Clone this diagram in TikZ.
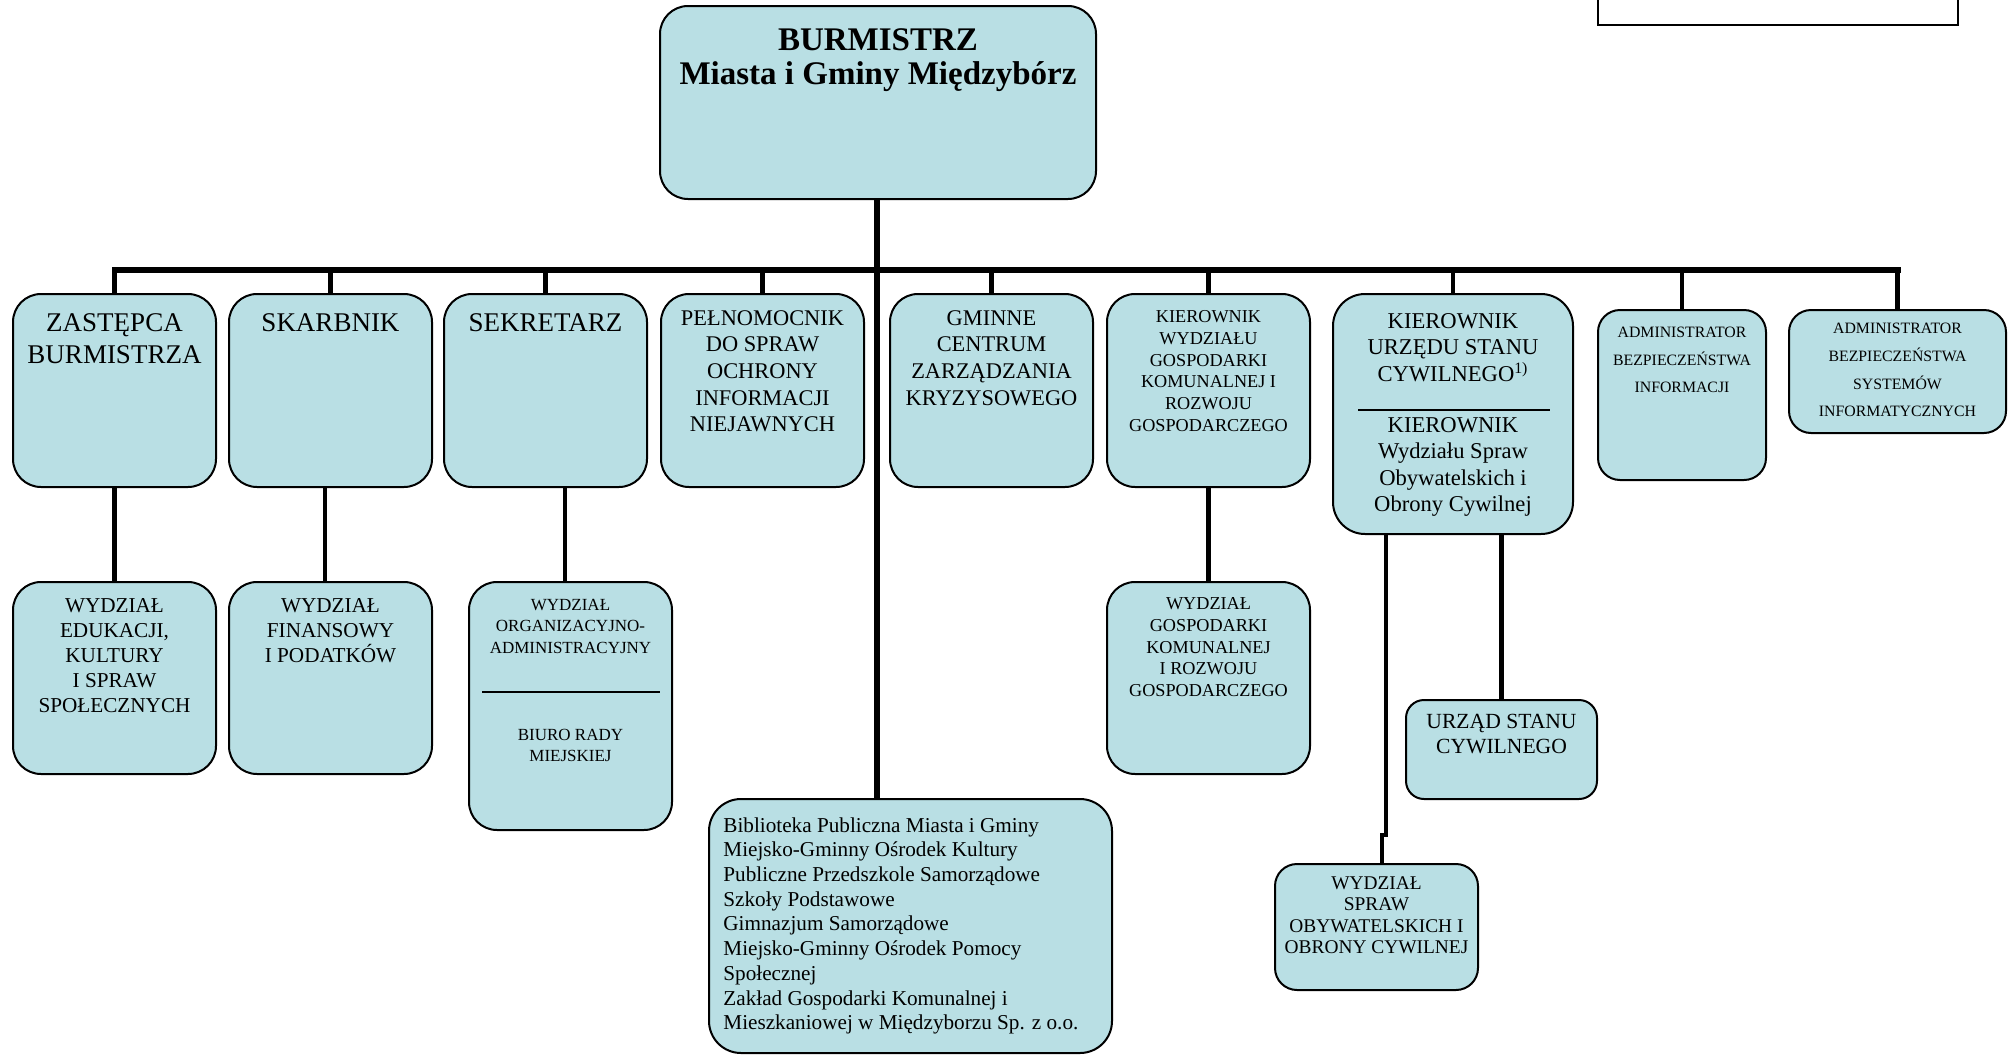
\documentclass[tikz,border=0pt]{standalone}
\usepackage{fontspec}
\setmainfont{Liberation Serif}
\usetikzlibrary{calc}
\definecolor{boxfill}{RGB}{185,223,228}
\newcommand\fs[2]{\fontsize{#1pt}{#2pt}\selectfont}
\newcommand\orgbox[7][]{%
  \pgfmathsetmacro\bw{(#5-#3)*0.5}%
  \pgfmathsetmacro\bh{(#6-#4)*0.5}%
  \node[box, rounded corners=#7pt, minimum width=\bw pt, minimum height=\bh pt, #1] (#2) at ({(#3+#5)/2},{(#4+#6)/2}) {};%
}
\tikzset{
  box/.style={draw=black, line width=1pt, fill=boxfill, inner sep=0pt, outer sep=0pt},
  conn/.style={line width=2.2pt},
  barline/.style={line width=3pt, line cap=rect},
  mainline/.style={line width=2.8pt},
  txt/.style={inner sep=0pt, align=center, anchor=north, text=black},
  divider/.style={line width=0.9pt},
}
\begin{document}
\begin{tikzpicture}[x=0.5pt,y=-0.5pt]
\useasboundingbox (0,0) rectangle (2014,1055);
% top-right empty frame
\node[draw=black, line width=1.2pt, fill=white, minimum width=180pt, minimum height=40pt, inner sep=0pt] (topbox) at (1778,-15) {};
% boxes
\orgbox{burm}{660}{6}{1096}{199}{14}
\orgbox{b1}{13}{294}{216}{487}{14}
\orgbox{b2}{229}{294}{432}{487}{14}
\orgbox{b3}{444}{294}{647}{487}{14}
\orgbox{b4}{661}{294}{864}{487}{14}
\orgbox{b5}{890}{294}{1093}{487}{14}
\orgbox{b6}{1107}{294}{1310}{487}{14}
\orgbox{b7}{1333}{294}{1573}{534}{16}
\orgbox{b8}{1598}{310}{1766}{480}{11}
\orgbox{b9}{1789}{310}{2006}{433}{11}
\orgbox{wA}{13}{582}{216}{774}{14}
\orgbox{wB}{229}{582}{432}{774}{14}
\orgbox{wC}{469}{582}{672}{830}{14}
\orgbox{wD}{1107}{582}{1310}{774}{14}
\orgbox{wE}{1406}{700}{1597}{799}{9}
\orgbox{wF}{1275}{864}{1478}{990}{11}
\orgbox{wG}{709}{799}{1112}{1053}{16}
% coordinates
\coordinate (barL) at (113,270);
\coordinate (mid) at (877,270);
\coordinate (cB) at (325,0);
\coordinate (cC) at (565,0);
\coordinate (cF) at (1386,0);
\coordinate (jog1) at (1386,835);
\coordinate (jog2) at (1382,835);
% connectors
\draw[mainline] (burm.south -| mid) -- (wG.north -| mid);
\draw[barline] (b1.north |- barL) -- (b9.north |- barL);
\foreach \b in {b1,b2,b3,b4,b5,b6,b7,b8,b9}{
  \draw[conn] (\b.north) -- (\b.north |- barL);
}
\draw[conn] (b1.south) -- (wA.north);
\draw[conn] (b2.south -| cB) -- (wB.north -| cB);
\draw[conn] (b3.south -| cC) -- (wC.north -| cC);
\draw[conn] (b6.south) -- (wD.north);
\draw[conn] (b7.south -| wE.north) -- (wE.north);
\draw[conn] (b7.south -| cF) -- (jog1) -- (jog2) -- (wF.north -| jog2);
% dividers
\draw[divider] (482,692) -- (660,692);
\draw[divider, line width=0.6pt] (1358,410) -- (1550,410);
% texts
\node[txt, font=\bfseries\fs{16.5}{17}] (tburm) at (878,28) {BURMISTRZ\\Miasta i Gminy Międzybórz};
\node[txt, font=\fs{13.5}{16}] (t1) at (114.5,313) {ZASTĘPCA\\BURMISTRZA};
\node[txt, font=\fs{13.5}{16}] (t2) at (330.5,313) {SKARBNIK};
\node[txt, font=\fs{13.5}{16}] (t3) at (545.5,313) {SEKRETARZ};
\node[txt, font=\fs{11.2}{13.3}] (t4) at (762.5,310) {PEŁNOMOCNIK\\DO SPRAW\\OCHRONY\\INFORMACJI\\NIEJAWNYCH};
\node[txt, font=\fs{11.2}{13.3}] (t5) at (991.5,310) {GMINNE\\CENTRUM\\ZARZĄDZANIA\\KRYZYSOWEGO};
\node[txt, font=\fs{9.1}{10.9}] (t6) at (1208.5,310) {KIEROWNIK\\WYDZIAŁU\\GOSPODARKI\\KOMUNALNEJ I\\ROZWOJU\\GOSPODARCZEGO};
\node[txt, font=\fs{11.3}{13.2}] (t7) at (1453,313) {KIEROWNIK\\URZĘDU STANU\\CYWILNEGO\textsuperscript{1)}};
\node[txt, font=\fs{11.3}{13.2}] (t7b) at (1453,417) {KIEROWNIK\\Wydziału Spraw\\Obywatelskich i\\Obrony Cywilnej};
\node[txt, font=\fs{7.9}{13.7}] (t8) at (1682,327) {ADMINISTRATOR\\BEZPIECZEŃSTWA\\INFORMACJI};
\node[txt, font=\fs{7.9}{13.8}] (t9) at (1897.5,323) {ADMINISTRATOR\\BEZPIECZEŃSTWA\\SYSTEMÓW\\INFORMATYCZNYCH};
\node[txt, font=\fs{10.6}{12.5}] (tA) at (114.5,598) {WYDZIAŁ\\EDUKACJI,\\KULTURY\\I SPRAW\\SPOŁECZNYCH};
\node[txt, font=\fs{10.6}{12.5}] (tB) at (330.5,598) {WYDZIAŁ\\FINANSOWY\\I PODATKÓW};
\node[txt, font=\fs{8.5}{10.6}] (tC) at (570.5,599) {WYDZIAŁ\\ORGANIZACYJNO-\\ADMINISTRACYJNY};
\node[txt, font=\fs{8.5}{10.6}] (tC2) at (570.5,729) {BIURO RADY\\MIEJSKIEJ};
\node[txt, font=\fs{9.1}{10.9}] (tD) at (1208.5,597) {WYDZIAŁ\\GOSPODARKI\\KOMUNALNEJ\\I ROZWOJU\\GOSPODARCZEGO};
\node[txt, font=\fs{10.8}{12.2}] (tE) at (1501.5,714) {URZĄD STANU\\CYWILNEGO};
\node[txt, font=\fs{9.7}{10.7}] (tF) at (1376.5,876) {WYDZIAŁ\\SPRAW\\OBYWATELSKICH I\\OBRONY CYWILNEJ};
\node[txt, font=\fs{10.6}{12.35}, align=left, anchor=north west] (tG) at (723,817) {Biblioteka Publiczna Miasta i Gminy\\Miejsko-Gminny Ośrodek Kultury\\Publiczne Przedszkole Samorządowe\\Szkoły Podstawowe\\Gimnazjum Samorządowe\\Miejsko-Gminny Ośrodek Pomocy\\Społecznej\\Zakład Gospodarki Komunalnej i\\Mieszkaniowej w Międzyborzu Sp. z o.o.};
\end{tikzpicture}
\end{document}
